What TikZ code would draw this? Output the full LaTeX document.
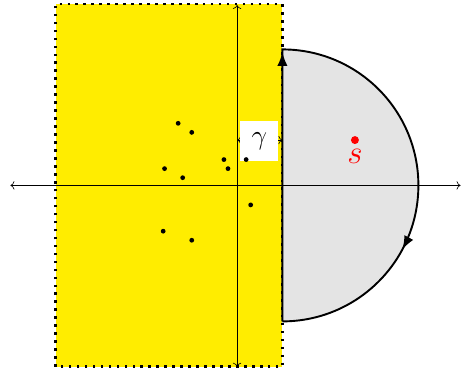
\documentclass[tikz,border=0pt]{standalone}
\usepackage{amsmath,amssymb}
\usepackage{xcolor}
\usetikzlibrary{arrows.meta, positioning, decorations.markings}

\definecolor{regionyellow}{RGB}{255,237,0}
\definecolor{halfgray}{RGB}{228,228,228}

\begin{document}
\begin{tikzpicture}[
        axis/.style={<->},
        region/.style={fill=regionyellow, draw=black, line width=1.6pt, dash pattern=on 1.6pt off 3.4pt},
        pole/.style={circle, fill=black, inner sep=0pt, minimum size=3pt},
        contour/.style={very thick, postaction={decorate},
            decoration={markings,
                mark=at position 0.385 with {\arrow{Latex[length=3mm]}},
                mark=at position 0.79 with {\arrow{Latex[length=3mm]}}}}
    ]
    \useasboundingbox (-5.23,-4.1) rectangle (4.94,4.09);

    % Regions
    \path[region] (-4,-4) rectangle (1,4);
    \fill[halfgray] (1,-3) -- (1,3) arc (90:-90:3) -- cycle;

    % Axes
    \coordinate (west) at (-5,0);
    \coordinate (east) at (4.93,0);
    \coordinate (south) at (0,-4);
    \coordinate (north) at (0,3.98);
    \draw[axis] (west) -- (east);
    \draw[axis] (south) -- (north);

    % Contour
    \coordinate (bottom) at (1,-3);
    \coordinate (top) at (1,3);
    \draw[contour] (bottom) -- (top) arc (90:-90:3);

    % Width of the strip
    \coordinate (gl) at (0,1);
    \coordinate (gr) at (1,1);
    \draw[<->] (gl) -- (gr);
    \node (gamma) [fill=white, minimum width=0.84cm, minimum height=0.88cm] at (0.49,0.97) {\LARGE$\gamma$};

    % Poles
    \foreach \x/\y [count=\i] in {-1.3/1.37, -1/1.17, -1.6/0.37, -1.2/0.17, -0.29/0.57,
                                  -0.2/0.37, 0.2/0.57, 0.3/-0.43, -1.63/-1.01, -1/-1.21}
        \node[pole] (p\i) at (\x,\y) {};

    % Point s
    \node (s) [circle, fill=red, inner sep=0pt, minimum size=5pt] at (2.6,1) {};
    \node (slabel) [below=2pt of s, text=red, inner sep=1pt] {\huge$s$};
\end{tikzpicture}
\end{document}
